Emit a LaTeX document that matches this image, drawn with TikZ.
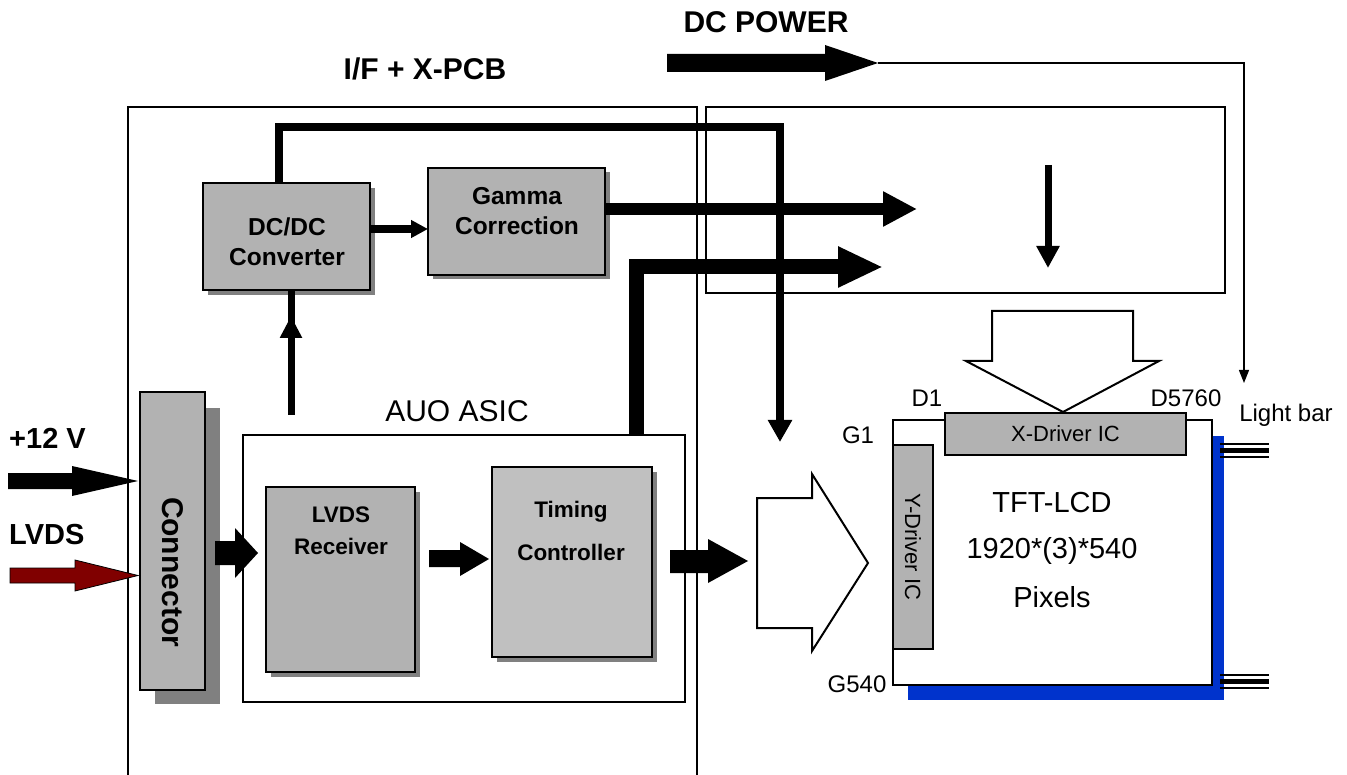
\documentclass[tikz,border=0pt]{standalone}
\usepackage{fontspec}
\setmainfont{Liberation Sans}
\usetikzlibrary{arrows.meta,calc}
\definecolor{boxgray}{HTML}{B2B2B2}
\definecolor{lightgraytwo}{HTML}{C0C0C0}
\definecolor{shadowgray}{HTML}{808080}
\definecolor{panelblue}{HTML}{0033CC}
\definecolor{lvdsred}{HTML}{800000}
\begin{document}
\begin{tikzpicture}[x=1pt,y=-1pt,
  frame/.style={draw, line width=1.3pt},
  graybox/.style={draw, line width=2pt, fill=boxgray, inner sep=0pt, outer sep=0pt, anchor=north west},
  whitebox/.style={draw, line width=2pt, fill=white, inner sep=0pt, outer sep=0pt, anchor=north west},
  shade/.style={fill=shadowgray},
  bigtxt/.style={font=\bfseries\fontsize{30}{34}\selectfont, inner sep=0pt},
  lbltxt/.style={font=\bfseries\fontsize{29}{34}\selectfont, inner sep=0pt},
  btxt/.style={font=\bfseries\fontsize{24.5}{30}\selectfont, align=center, inner sep=0pt},
  stxt/.style={font=\bfseries\fontsize{22.5}{32}\selectfont, align=center, inner sep=0pt},
  rtxt/.style={font=\fontsize{24}{28}\selectfont, inner sep=0pt},
  powline/.style={line width=#1}
]
\useasboundingbox (0,0) rectangle (1347,775);

% titles
\node[bigtxt] (dcpow) at (766,22) {DC POWER};
\node[bigtxt] (ifx) at (425,69) {I/F + X-PCB};

% boards
\draw[frame] (128,776) -- (128,107) -- (697,107) -- (697,776);
\node[draw, line width=1.3pt, inner sep=0pt, outer sep=0pt, anchor=north west,
      minimum width=519pt, minimum height=186pt] (xboard) at (706,107) {};

% DC power input
\fill (667,54) -- (825,54) -- (825,45) -- (878,63) -- (825,81) -- (825,72) -- (667,72) -- cycle;
\coordinate (dctip) at (878,63);
\coordinate (lbend) at (1244,63);
\coordinate (lbarrow) at (1244,383);
\draw[line width=1.3pt, -{Triangle[length=13pt,width=10pt]}] (dctip) -- (lbend) -- (lbarrow);

% DC/DC converter
\fill[shade] (208,188) rectangle (375,295);
\node[graybox, minimum width=167pt, minimum height=107pt] (dcdc) at (203,183) {};
\node[btxt] at (287,242) {DC/DC\\Converter};

% Gamma correction
\fill[shade] (433,172) rectangle (610,279);
\node[graybox, minimum width=177pt, minimum height=107pt] (gamma) at (428,168) {};
\node[btxt] at (517,211) {Gamma\\Correction};

% Connector
\fill[shade] (155,408) rectangle (220,704);
\node[graybox, minimum width=65pt, minimum height=298pt] (conn) at (140,392) {};
\node[font=\bfseries\fontsize{30}{34}\selectfont, rotate=-90, inner sep=0pt] at (173,572) {Connector};

% ASIC
\node[whitebox, minimum width=442pt, minimum height=267pt] (asic) at (243,435) {};
\node[font=\fontsize{30}{34}\selectfont, inner sep=0pt] at (457,411) {AUO ASIC};

% LVDS receiver
\fill[shade] (271,492) rectangle (420,677);
\node[graybox, minimum width=149pt, minimum height=185pt] (rx) at (266,487) {};
\node[stxt] at (341,531) {LVDS\\Receiver};

% Timing controller
\fill[shade] (497,472) rectangle (657,662);
\node[graybox, fill=lightgraytwo, minimum width=160pt, minimum height=190pt] (tcon) at (492,467) {};
\node[btxt, font=\bfseries\fontsize{22.5}{43}\selectfont] at (571,531) {Timing\\Controller};

% input labels and arrows
\node[lbltxt, anchor=west] at (9,438) {+12 V};
\node[lbltxt, anchor=west] at (9,535) {LVDS};
\fill (8,473) -- (72,473) -- (72,466) -- (138,481) -- (72,496) -- (72,489) -- (8,489) -- cycle;
\filldraw[fill=lvdsred, draw=black, line width=0.8pt] (10,568) -- (75,568) -- (75,560) -- (138,575.5) -- (75,591) -- (75,583) -- (10,583) -- cycle;

% block arrows in the data path
\fill (215,541) -- (235,541) -- (235,528) -- (258,553) -- (235,578) -- (235,565) -- (215,565) -- cycle;
\fill (429,550) -- (460,550) -- (460,542) -- (489,559) -- (460,576) -- (460,567) -- (429,567) -- cycle;
\fill (670,550) -- (708,550) -- (708,539) -- (748,561) -- (708,583) -- (708,573) -- (670,573) -- cycle;

% hollow arrows
\draw[line width=2pt, fill=white] (757,498) -- (812,498) -- (812,474) -- (868,563) -- (812,651) -- (812,628) -- (757,628) -- cycle;
\draw[line width=2pt, fill=white] (992,311) -- (1133,311) -- (1133,361) -- (1159,361) -- (1063,412) -- (966,361) -- (992,361) -- cycle;

% power and signal lines
\draw[powline=8pt, -{Triangle[length=22pt,width=23pt]}] (dcdc.north -| 279,0) -- (279,127) -- (780,127) -- (780,442);
\draw[powline=12pt, -{Triangle[length=34pt,width=33pt]}] (gamma.east |- 0,209) -- (917,209);
\draw[powline=15pt, -{Triangle[length=45pt,width=38pt]}] (asic.north -| 636,0) -- (636,267) -- (883,267);
\draw[powline=7pt, -{Triangle[length=22pt,width=21pt]}] (291,415) -- (dcdc.south -| 291,0) ++(0,26);
\draw[powline=7pt, -{Triangle[length=22pt,width=22pt]}] (1048,165) -- (1048,268);
\draw[powline=8pt, -{Triangle[length=17pt,width=17pt]}] (dcdc.east |- 0,229) -- (gamma.west |- 0,229);

% panel
\fill[panelblue] (908,436) rectangle (1224,700);
\node[whitebox, minimum width=319pt, minimum height=265pt] (lcd) at (893,420) {};
\node[graybox, minimum width=241pt, minimum height=42pt] (xdrv) at (945,413) {};
\node[font=\fontsize{22}{26}\selectfont, inner sep=0pt] at (xdrv.center) {X-Driver IC};
\node[graybox, minimum width=40pt, minimum height=204pt] (ydrv) at (893,445) {};
\node[font=\fontsize{22}{26}\selectfont, rotate=-90, inner sep=0pt] at (913,547) {Y-Driver IC};
\node[font=\fontsize{29}{34}\selectfont, inner sep=0pt] at (1052,503) {TFT-LCD};
\node[font=\fontsize{29}{34}\selectfont, inner sep=0pt] at (1052,551) {1920*(3)*540};
\node[font=\fontsize{29}{34}\selectfont, inner sep=0pt] at (1052,597) {Pixels};

\node[rtxt] at (927,398) {D1};
\node[rtxt] at (1186,398) {D5760};
\node[rtxt] at (858,435) {G1};
\node[rtxt] at (857,684) {G540};
\node[rtxt] at (1286,415) {Light bar};

% light bar leads
\draw[line width=2pt] (1220,444) -- (1269,444) (1220,457) -- (1269,457);
\draw[line width=5pt] (1220,450.5) -- (1269,450.5);
\draw[line width=2pt] (1220,675) -- (1269,675) (1220,688) -- (1269,688);
\draw[line width=5pt] (1220,681.5) -- (1269,681.5);
\end{tikzpicture}
\end{document}
